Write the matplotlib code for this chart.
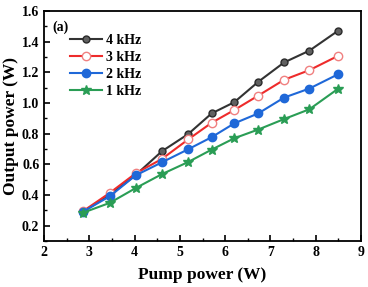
import matplotlib
matplotlib.use("Agg")
from matplotlib import pyplot as plt

pump = [2.86, 3.45, 4.02, 4.60, 5.18, 5.70, 6.20, 6.73, 7.30, 7.86, 8.50]
p4k = [0.292, 0.400, 0.530, 0.685, 0.797, 0.932, 1.005, 1.138, 1.264, 1.341, 1.472]
p3k = [0.295, 0.414, 0.541, 0.635, 0.762, 0.871, 0.954, 1.048, 1.151, 1.214, 1.308]
p2k = [0.292, 0.392, 0.528, 0.613, 0.698, 0.777, 0.867, 0.932, 1.035, 1.094, 1.188]
p1k = [0.285, 0.349, 0.445, 0.536, 0.615, 0.696, 0.770, 0.827, 0.895, 0.959, 1.094]

plt.rcParams['font.family'] = ['Liberation Serif', 'DejaVu Serif']
plt.rcParams['font.weight'] = 'bold'

fig = plt.figure(figsize=(3.68, 2.87), dpi=100)
ax = fig.add_axes([0.12, 0.16, 0.861, 0.802])

ax.plot(pump, p4k, color='#333333', lw=1.5, marker='o', ms=5,
        mfc='#606060', mec='#2a2a2a', label='4 kHz')
ax.plot(pump, p3k, color='#ee2b2b', lw=1.5, marker='o', ms=6,
        mfc='white', mec='#f08080', label='3 kHz')
ax.plot(pump, p2k, color='#1f68d8', lw=1.5, marker='o', ms=6,
        mfc='#1f68d8', mec='#1f68d8', label='2 kHz')
ax.plot(pump, p1k, color='#2a9d55', lw=1.5, marker='*', ms=7,
        mfc='#2a9d55', mec='#2a9d55', label='1 kHz')

ax.set_xlim(2, 9)
ax.set_ylim(0.1, 1.6)
ax.set_xticks(range(2, 10))
ax.set_xticks([x + 0.5 for x in range(2, 9)], minor=True)
ax.set_yticks([0.2, 0.4, 0.6, 0.8, 1.0, 1.2, 1.4, 1.6])
ax.set_yticks([0.1 + 0.2 * i for i in range(8)], minor=True)
ax.tick_params(direction='in', labelsize=10, width=1.2, length=4)
ax.tick_params(which='minor', direction='in', width=1, length=2)
ax.yaxis.set_major_formatter(matplotlib.ticker.FormatStrFormatter('%.1f'))
for s in ax.spines.values():
    s.set_linewidth(1.3)

ax.set_xlabel('Pump power (W)', fontsize=12.5, fontweight='bold', labelpad=6)
ax.set_ylabel('Output power (W)', fontsize=12.5, fontweight='bold', labelpad=2)
ax.text(0.025, 0.915, '(a)', transform=ax.transAxes, fontsize=10, fontweight='bold')

ax.legend(loc='upper left', bbox_to_anchor=(0.065, 0.925), frameon=False,
          prop={'weight': 'bold', 'size': 10},
          handlelength=2.3, labelspacing=0.3, handletextpad=0.3, borderaxespad=0)

fig.savefig('out.png', dpi=100)
